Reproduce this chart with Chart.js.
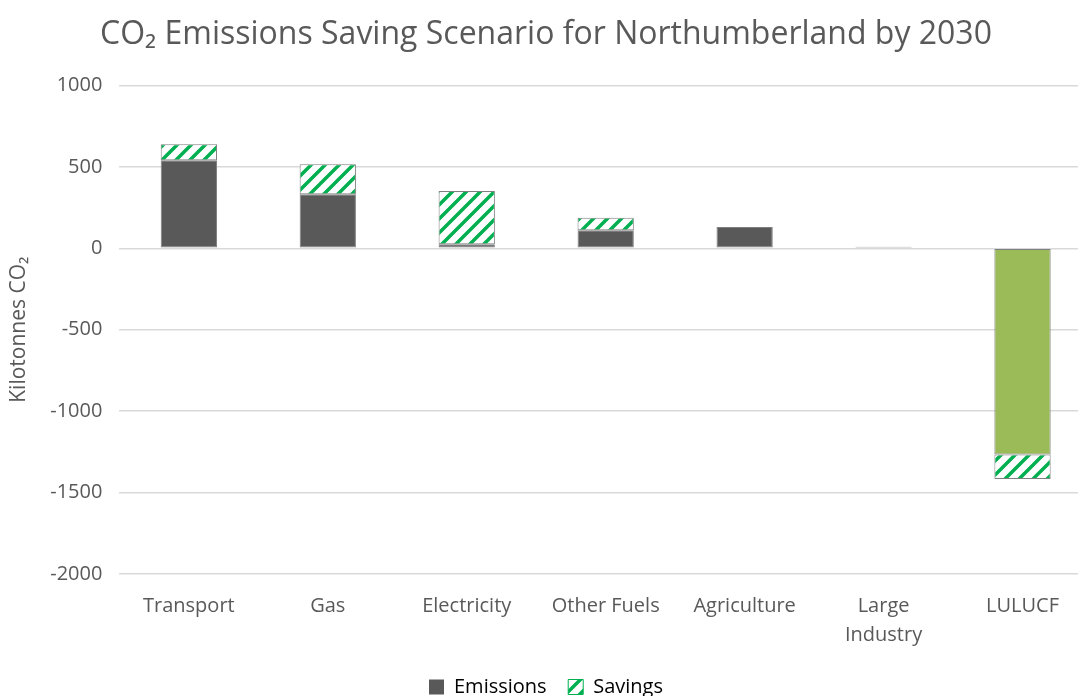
<!DOCTYPE html>
<html>
<head>
<meta charset="utf-8">
<script src="https://cdn.jsdelivr.net/npm/chart.js@4"></script>
<style>
  html, body { margin: 0; padding: 0; background: #fff; overflow: hidden; }
  #wrap { width: 1092px; height: 696px; }
</style>
</head>
<body>
<div id="wrap"><canvas id="myChart"></canvas></div>
<script>
const categories = ['Transport', 'Gas', 'Electricity', 'Other Fuels', 'Agriculture', ['Large', 'Industry'], 'LULUCF'];
const emissions = [541, 332, 25, 111, 131, 10, -1266];
const savings = [98, 184, 327, 77, 0, 0, -150];
const yTicks = [-2000, -1500, -1000, -500, 0, 500, 1000];

const textColor = '#595959';
const font = "'Open Sans', sans-serif";

// green diagonal stripes like Excel's wide upward diagonal fill
function stripePattern() {
    const size = 14;
    const c = document.createElement('canvas');
    c.width = size; c.height = size;
    const g = c.getContext('2d');
    g.fillStyle = '#fff';
    g.fillRect(0, 0, size, size);
    g.strokeStyle = '#00B050';
    g.lineWidth = 3.5;
    g.beginPath();
    g.moveTo(-size / 2, size / 2); g.lineTo(size / 2, -size / 2);
    g.moveTo(0, size); g.lineTo(size, 0);
    g.moveTo(size / 2, size * 1.5); g.lineTo(size * 1.5, size / 2);
    g.stroke();
    return g.createPattern(c, 'repeat');
}

// push the legend a bit lower without giving it more room
const legendShift = {
    id: 'legendShift',
    afterLayout(chart) {
        chart.legend.top += 11;
        chart.legend.bottom += 11;
    }
};

const ctx = document.getElementById('myChart').getContext('2d');
const stripes = stripePattern();

new Chart(ctx, {
    type: 'bar',
    data: {
        labels: categories,
        datasets: [
            {
                label: 'Emissions',
                data: emissions,
                backgroundColor: emissions.map((v, i) => i === 6 ? '#9BBB59' : '#595959'),
                borderColor: '#7F7F7F',
                borderWidth: 1,
                borderSkipped: false
            },
            {
                label: 'Savings',
                data: savings,
                backgroundColor: stripes,
                borderColor: '#7F7F7F',
                borderWidth: 1,
                borderSkipped: false
            }
        ]
    },
    plugins: [legendShift],
    options: {
        responsive: true,
        maintainAspectRatio: false,
        animation: false,
        layout: { padding: { top: 16, left: 0, right: 0, bottom: 0 } },
        datasets: { bar: { categoryPercentage: 1, barPercentage: 0.405 } },
        plugins: {
            title: {
                display: true,
                text: 'CO₂ Emissions Saving Scenario for Northumberland by 2030',
                color: textColor,
                font: { family: font, size: 32, weight: 'normal' },
                padding: { top: 0, bottom: 31 }
            },
            legend: {
                position: 'bottom',
                labels: {
                    color: textColor,
                    font: { family: font, size: 20 },
                    boxWidth: 15,
                    boxHeight: 15,
                    padding: 6,
                    generateLabels: chart => [
                        { text: 'Emissions   ', fillStyle: '#595959', strokeStyle: '#595959', lineWidth: 0, datasetIndex: 0 },
                        { text: 'Savings', fillStyle: stripes, strokeStyle: '#00B050', lineWidth: 1, datasetIndex: 1 }
                    ]
                }
            },
            tooltip: { enabled: false }
        },
        scales: {
            x: {
                stacked: true,
                grid: { display: false },
                border: { display: false },
                ticks: { color: textColor, font: { family: font, size: 20, lineHeight: 1.45 }, padding: 10, maxRotation: 0, autoSkip: false }
            },
            y: {
                stacked: true,
                min: -2000,
                max: 1000,
                afterBuildTicks: axis => { axis.ticks = yTicks.map(v => ({ value: v })); },
                grid: { color: '#D9D9D9', lineWidth: 1.5, drawTicks: false },
                border: { display: false },
                ticks: { color: textColor, font: { family: font, size: 20 }, padding: 17, callback: v => String(v) },
                title: {
                    display: true,
                    text: 'Kilotonnes CO₂',
                    color: textColor,
                    font: { family: font, size: 21 },
                    padding: { top: 6, bottom: 2 }
                }
            }
        }
    }
});
</script>
</body>
</html>
